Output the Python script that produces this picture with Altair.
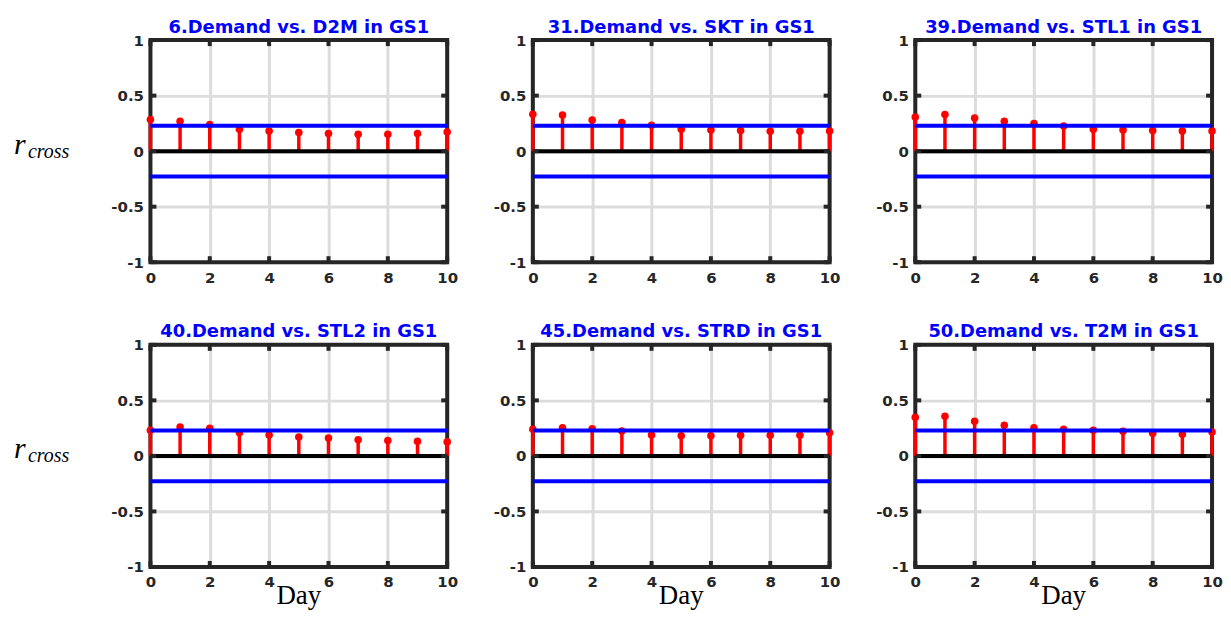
import altair as alt
import pandas as pd

# ---------------- data ----------------
lags = list(range(11))
titles = [
    "6.Demand vs. D2M in GS1",
    "31.Demand vs. SKT in GS1",
    "39.Demand vs. STL1 in GS1",
    "40.Demand vs. STL2 in GS1",
    "45.Demand vs. STRD in GS1",
    "50.Demand vs. T2M in GS1",
]
r_d2m = [0.284, 0.269, 0.239, 0.197, 0.182, 0.167, 0.158, 0.152, 0.152, 0.158, 0.173]
r_skt = [0.332, 0.326, 0.281, 0.257, 0.233, 0.197, 0.191, 0.185, 0.179, 0.179, 0.182]
r_stl1 = [0.308, 0.329, 0.299, 0.269, 0.248, 0.227, 0.197, 0.191, 0.185, 0.182, 0.182]
r_stl2 = [0.230, 0.260, 0.248, 0.209, 0.188, 0.170, 0.161, 0.146, 0.138, 0.132, 0.126]
r_strd = [0.239, 0.254, 0.245, 0.224, 0.188, 0.182, 0.182, 0.185, 0.185, 0.185, 0.209]
r_t2m = [0.347, 0.356, 0.311, 0.275, 0.254, 0.239, 0.230, 0.221, 0.203, 0.194, 0.215]
series = [r_d2m, r_skt, r_stl1, r_stl2, r_strd, r_t2m]
conf_bounds = [0.229, -0.229]
zero_line = [0]
x_ticks = [0, 2, 4, 6, 8, 10]
y_ticks = [-1, -0.5, 0, 0.5, 1]
y_label = ["r", "cross"]
x_label = ["Day"]

# ---------------- style ----------------
W, H = 298, 223
RED = "#ff0000"
BLUE = "#0000ff"
FRAME = "#262626"
TICK_LEN = 6

xs = alt.Scale(domain=[0, 10], nice=False, zero=False)
ys = alt.Scale(domain=[-1, 1], nice=False, zero=False)
xax = alt.Axis(values=x_ticks, labelPadding=8, labelFlush=False,
               labelExpr="'' + datum.value", grid=True, ticks=False, domain=False)
yax = alt.Axis(values=y_ticks, labelPadding=7, labelFlush=False,
               labelExpr="'' + datum.value", grid=True, ticks=False, domain=False)


def X(f):
    return alt.X(f, scale=xs, axis=xax, title=None)


def Y(f):
    return alt.Y(f, scale=ys, axis=yax, title=None)


def panel(idx):
    df = pd.DataFrame({"lag": lags, "r": series[idx]})
    col = idx % 3
    row = idx // 3
    frame = alt.Chart(pd.DataFrame({"z": zero_line})).mark_rect(
        fill=None, fillOpacity=0, stroke=FRAME, strokeWidth=4).encode(
        x=alt.value(0), x2=alt.value(W), y=alt.value(0), y2=alt.value(H))
    stems = alt.Chart(df).mark_rule(color=RED, strokeWidth=3.5).encode(
        x=X("lag:Q"), y=Y("r:Q"), y2=alt.datum(0),
    )
    dots = alt.Chart(df).mark_circle(color=RED, size=58, opacity=1).encode(
        x=X("lag:Q"), y=Y("r:Q"),
    )
    conf = alt.Chart(pd.DataFrame({"c": conf_bounds})).mark_rule(
        color=BLUE, strokeWidth=4).encode(
        y=Y("c:Q"), x=alt.value(0), x2=alt.value(W))
    zero = alt.Chart(pd.DataFrame({"z": zero_line})).mark_rule(
        color="black", strokeWidth=4).encode(
        y=Y("z:Q"), x=alt.value(0), x2=alt.value(W))
    xt = pd.DataFrame({"t": x_ticks})
    yt = pd.DataFrame({"t": y_ticks})
    tick_top = alt.Chart(xt).mark_rule(color=FRAME, strokeWidth=4).encode(
        x=X("t:Q"), y=alt.value(0), y2=alt.value(TICK_LEN))
    tick_bot = alt.Chart(xt).mark_rule(color=FRAME, strokeWidth=4).encode(
        x=X("t:Q"), y=alt.value(H), y2=alt.value(H - TICK_LEN))
    tick_l = alt.Chart(yt).mark_rule(color=FRAME, strokeWidth=4).encode(
        y=Y("t:Q"), x=alt.value(0), x2=alt.value(TICK_LEN))
    tick_r = alt.Chart(yt).mark_rule(color=FRAME, strokeWidth=4).encode(
        y=Y("t:Q"), x=alt.value(W), x2=alt.value(W - TICK_LEN))
    layers = [frame, stems, dots, conf, zero, tick_top, tick_bot, tick_l, tick_r]
    if col == 0:
        r_main = alt.Chart(pd.DataFrame({"s": [y_label[0]]})).mark_text(
            font="Liberation Serif", fontStyle="italic", fontSize=30,
            align="left", baseline="alphabetic", color="black").encode(
            text="s:N", x=alt.value(-137), y=alt.value(114))
        r_sub = alt.Chart(pd.DataFrame({"s": [y_label[1]]})).mark_text(
            font="Liberation Serif", fontStyle="italic", fontSize=20,
            align="left", baseline="alphabetic", color="black").encode(
            text="s:N", x=alt.value(-123), y=alt.value(118))
        layers += [r_main, r_sub]
    if row == 1:
        day = alt.Chart(pd.DataFrame({"s": x_label})).mark_text(
            font="Liberation Serif", fontSize=27, align="center",
            baseline="alphabetic", color="black").encode(
            text="s:N", x=alt.value(W / 2), y=alt.value(H + 37))
        layers.append(day)
    return alt.layer(*layers).properties(
        width=W, height=H,
        title=alt.TitleParams(titles[idx], color=BLUE, font="DejaVu Sans",
                              fontSize=18, fontWeight="bold", anchor="middle",
                              offset=-3.5),
    )


chart = alt.concat(
    *[panel(i) for i in range(6)],
    columns=3,
    spacing={"row": 83, "column": 86},
    bounds="flush",
).properties(
    padding={"left": 6, "top": 9, "right": 0, "bottom": 0},
    background="white",
).configure_view(
    stroke=None
).configure_axis(
    labelFont="DejaVu Sans", labelFontWeight="bold", labelFontSize=15,
    labelColor=FRAME, gridColor="#dcdcdc", gridWidth=3, gridOpacity=1,
)

chart.save("out.html", embed_options={"renderer": "svg", "actions": False})
